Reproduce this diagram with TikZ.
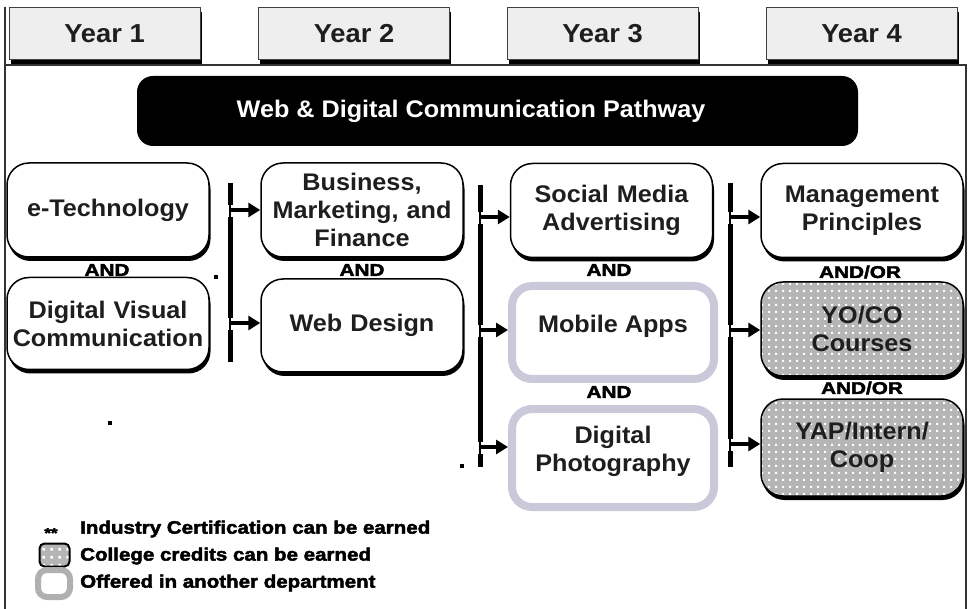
\documentclass[tikz,border=0pt]{standalone}
\usepackage{fontspec}
\setmainfont{Liberation Sans}
\newfontfamily\boxfont[FakeStretch=1.05]{Liberation Sans}
\newfontface\heavyfont[FakeStretch=1.22,FakeBold=2.5]{Liberation Sans Bold}
\newfontface\legendfont[FakeStretch=1.14,FakeBold=2.5]{Liberation Sans Bold}
\usetikzlibrary{arrows.meta,shadows,patterns.meta}

\definecolor{boxtext}{HTML}{1E1E1E}
\definecolor{yearfill}{HTML}{EEEEEE}
\definecolor{lavender}{HTML}{C9C9DA}
\definecolor{dotgray}{HTML}{B5B5B5}
\definecolor{ringgray}{HTML}{B0B0B0}

% white square spots on a grey ground (college-credit boxes)
\tikzdeclarepattern{
  name=gridspots,
  type=uncolored,
  bottom left={(0pt,0pt)},
  top right={(6.6pt,6.6pt)},
  tile size={(6.6pt,6.6pt)},
  code={\fill (2.2pt,2.2pt) rectangle (4.4pt,4.4pt);}
}
\tikzdeclarepattern{
  name=bigspots,
  type=uncolored,
  bottom left={(0pt,0pt)},
  top right={(8pt,8pt)},
  tile size={(8pt,8pt)},
  code={\fill (2.5pt,2.5pt) rectangle (5.5pt,5.5pt);}
}

\begin{document}
\begin{tikzpicture}[x=1pt,y=-1pt,
  blackshadow/.style={drop shadow={shadow xshift=1.5pt,shadow yshift=-4pt,fill=black,opacity=1}},
  yearbox/.style={draw=black!75,line width=1pt,fill=yearfill,minimum width=191pt,
    minimum height=52pt,inner sep=0pt,blackshadow,text=boxtext,
    font=\boxfont\bfseries\fontsize{26pt}{30pt}\selectfont},
  banner/.style={fill=black,rounded corners=16pt,minimum width=721pt,minimum height=70pt,inner sep=0pt},
  bannertext/.style={text=white,inner sep=0pt,font=\boxfont\bfseries\fontsize{24pt}{28pt}\selectfont},
  basebox/.style={draw=black,line width=1.5pt,rounded corners=22pt,minimum width=202pt,
    minimum height=94pt,inner sep=0pt,text width=198pt,align=center,text=boxtext,
    font=\boxfont\bfseries\fontsize{24pt}{28pt}\selectfont,blackshadow},
  course/.style={basebox,fill=white},
  credit/.style={basebox,preaction={fill=dotgray},pattern=gridspots,pattern color=white},
  othdept/.style={draw=lavender,line width=8pt,fill=white,rounded corners=20pt,
    minimum width=202pt,minimum height=93pt,inner sep=0pt},
  coursetext/.style={inner sep=0pt,align=center,text=boxtext,
    font=\boxfont\bfseries\fontsize{24pt}{28pt}\selectfont},
  andlabel/.style={inner sep=0pt,text=black,font=\heavyfont\fontsize{17pt}{19pt}\selectfont},
  bus/.style={line width=5pt},
  busthin/.style={line width=1.5pt},
  arrowline/.style={line width=3.5pt,-{Triangle[length=12pt,width=14pt]}},
  speck/.style={fill=black,minimum size=4pt,inner sep=0pt},
  legendtext/.style={anchor=west,inner sep=0pt,text=black,
    font=\legendfont\fontsize{18pt}{20pt}\selectfont},
  frame/.style={draw=black!80,line width=1.5pt}
]
\useasboundingbox (0,0) rectangle (969,609);

% outer frame
\draw[frame] (5,7) -- (5,615);
\draw[frame] (5,65) -- (966,65) -- (966,615);

% year headings
\node[yearbox] (y1) at (104.5,34) {Year 1};
\node[yearbox] (y2) at (354,34) {Year 2};
\node[yearbox] (y3) at (602.5,34) {Year 3};
\node[yearbox] (y4) at (861.5,34) {Year 4};

% pathway banner
\node[banner] (pathway) at (497.5,111) {};
\node[bannertext] (pathwaytitle) at (471,111) {Web \& Digital Communication Pathway};

% year 1
\node[course] (etech) at (108,210) {e-Technology};
\node[course,minimum height=92pt] (dvc) at (108,323.5) {Digital Visual\\Communication};
% year 2
\node[course] (bmf) at (362,210) {Business,\\Marketing, and\\Finance};
\node[course,minimum height=93pt] (webd) at (362,325.5) {Web Design};
% year 3
\node[course] (sma) at (611.5,210.5) {Social Media\\Advertising};
\node[othdept] (mob) at (613,332.5) {};
\node[coursetext] (mobtext) at (613,326) {Mobile Apps};
\node[othdept,minimum height=98pt] (photo) at (613,458) {};
\node[coursetext] (phototext) at (613,451) {Digital\\Photography};
% year 4
\node[course] (mgmt) at (862,210.5) {Management\\Principles};
\node[credit] (yoco) at (862,329) {YO/CO\\Courses};
\node[credit,minimum height=97pt] (yap) at (862,447.5) {YAP/Intern/\\Coop};

% conjunctions
\node[andlabel] (and1) at (107,270) {AND};
\node[andlabel] (and2) at (362,270) {AND};
\node[andlabel] (and3) at (609,270) {AND};
\node[andlabel] (and4) at (609,392) {AND};
\node[andlabel] (andor1) at (860,272) {AND/OR};
\node[andlabel] (andor2) at (862,388) {AND/OR};

% bus from year 1 to year 2
\coordinate (b1t) at (230,183); \coordinate (b1b) at (230,362);
\coordinate (j11) at (230,210); \coordinate (j12) at (230,323);
\draw[busthin] (b1t) -- (b1b);
\draw[bus] (b1t) -- ([yshift=5pt]j11) ([yshift=-7pt]j11) -- ([yshift=5pt]j12)
  ([yshift=-7pt]j12) -- (b1b);
\draw[arrowline] (j11) -- (bmf.west |- j11);
\draw[arrowline] (j12) -- (webd.west |- j12);

% bus from year 2 to year 3
\coordinate (b2t) at (480,185); \coordinate (b2b) at (480,467);
\coordinate (j21) at (480,217); \coordinate (j22) at (480,330); \coordinate (j23) at (480,447);
\draw[busthin] (b2t) -- (b2b);
\draw[bus] (b2t) -- ([yshift=5pt]j21) ([yshift=-7pt]j21) -- ([yshift=5pt]j22)
  ([yshift=-7pt]j22) -- ([yshift=5pt]j23) ([yshift=-7pt]j23) -- (b2b);
\draw[arrowline] (j21) -- (sma.west |- j21);
\draw[arrowline] (j22) -- (mob.west |- j22);
\draw[arrowline] (j23) -- (photo.west |- j23);

% bus from year 3 to year 4
\coordinate (b3t) at (730,183); \coordinate (b3b) at (730,467);
\coordinate (j31) at (730,217); \coordinate (j32) at (730,330); \coordinate (j33) at (730,444);
\draw[busthin] (b3t) -- (b3b);
\draw[bus] (b3t) -- ([yshift=5pt]j31) ([yshift=-7pt]j31) -- ([yshift=5pt]j32)
  ([yshift=-7pt]j32) -- ([yshift=5pt]j33) ([yshift=-7pt]j33) -- (b3b);
\draw[arrowline] (j31) -- (mgmt.west |- j31);
\draw[arrowline] (j32) -- (yoco.west |- j32);
\draw[arrowline] (j33) -- (yap.west |- j33);

% stray marks
\node[speck] (speck1) at (216,277) {};
\node[speck] (speck2) at (110,423) {};
\node[speck] (speck3) at (462,466) {};

% legend
\node[andlabel,font=\heavyfont\fontsize{14pt}{14pt}\selectfont] (lgstar) at (51,533) {**};
\node[legendtext] (lg1) at (80,529) {Industry Certification can be earned};
\node[draw=black,line width=2pt,rounded corners=5pt,minimum width=30pt,minimum height=23pt,
  inner sep=0pt,preaction={fill=dotgray},pattern=bigspots,pattern color=white] (lgbox) at (54.5,555) {};
\node[legendtext] (lg2) at (80,556) {College credits can be earned};
\node[draw=ringgray,line width=6pt,rounded corners=9pt,minimum width=32pt,minimum height=27pt,
  inner sep=0pt] (lgring) at (54,583.5) {};
\node[legendtext] (lg3) at (80,583) {Offered in another department};
\end{tikzpicture}
\end{document}
